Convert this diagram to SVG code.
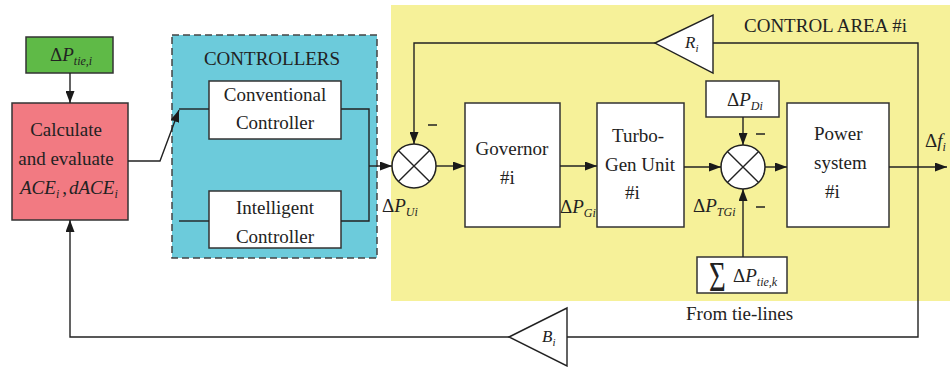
<svg xmlns="http://www.w3.org/2000/svg" width="950" height="367" viewBox="0 0 950 367" font-family="'Liberation Serif', Tinos, 'Times New Roman', serif">
<style>
  .t { font-family: "Liberation Serif", Tinos, "Times New Roman", serif; font-size: 19px; fill: #222; }
  .m { font-family: "Liberation Serif", Tinos, "Times New Roman", serif; font-size: 19px; fill: #222; }
  .it { font-style: italic; }
  .sub { font-style: italic; font-size: 12px; }
  .box { fill: #ffffff; stroke: #333; stroke-width: 1.5; }
  .ln { fill: none; stroke: #222; stroke-width: 1.4; }
  .sum { fill: #ffffff; stroke: #222; stroke-width: 1.5; }
</style>
<defs>
  <marker id="arr" viewBox="0 0 12 9" refX="12" refY="4.5" markerWidth="12" markerHeight="9" orient="auto" markerUnits="userSpaceOnUse">
    <path d="M0,0 L12,4.5 L0,9 z" fill="#1a1a1a"/>
  </marker>
</defs>
<rect x="0" y="0" width="950" height="367" fill="#ffffff"/>

<g id="control-area">
  <rect x="391" y="5" width="559" height="296" fill="#f6f199"/>
  <text class="t" x="744" y="32">CONTROL AREA #i</text>
</g>

<g id="controllers">
  <rect x="172" y="35" width="205" height="223" fill="#6ccbdb" stroke="#444" stroke-width="1.5" stroke-dasharray="7,4"/>
  <text class="t" x="272" y="65" text-anchor="middle">CONTROLLERS</text>
</g>

<g id="tie-input">
  <rect x="26" y="37" width="87" height="36" fill="#5fba47" stroke="#333" stroke-width="1.5"/>
  <text class="m" x="50" y="61">Δ<tspan class="it">P</tspan><tspan class="sub" dy="4">tie,i</tspan></text>
</g>

<g id="calc">
  <rect x="12" y="103" width="116" height="117" fill="#f27a82" stroke="#333" stroke-width="1.5"/>
  <text class="t" x="66" y="136" text-anchor="middle">Calculate</text>
  <text class="t" x="66" y="165" text-anchor="middle">and evaluate</text>
  <text class="m" x="20" y="194"><tspan class="it">ACE</tspan><tspan class="sub" dy="4">i</tspan><tspan dx="3" dy="-4">,</tspan><tspan class="it" dx="2">dACE</tspan><tspan class="sub" dy="4">i</tspan></text>
</g>

<g id="conventional">
  <rect class="box" x="209" y="81" width="132" height="58"/>
  <text class="t" x="275" y="101" text-anchor="middle">Conventional</text>
  <text class="t" x="275" y="129" text-anchor="middle">Controller</text>
</g>

<g id="intelligent">
  <rect class="box" x="209" y="191" width="132" height="57"/>
  <text class="t" x="275" y="214" text-anchor="middle">Intelligent</text>
  <text class="t" x="275" y="243" text-anchor="middle">Controller</text>
</g>

<g id="sum1">
  <circle class="sum" cx="414" cy="166" r="22"/>
  <path class="ln" d="M398.4,150.4 L429.6,181.6 M429.6,150.4 L398.4,181.6"/>
</g>

<g id="governor">
  <rect class="box" x="465" y="103" width="95" height="124"/>
  <text class="t" x="512" y="155" text-anchor="middle">Governor</text>
  <text class="t" x="500" y="184">#i</text>
</g>

<g id="turbo">
  <rect class="box" x="597" y="103" width="87" height="124"/>
  <text class="t" x="612" y="142">Turbo-</text>
  <text class="t" x="640" y="171" text-anchor="middle">Gen Unit</text>
  <text class="t" x="625" y="199">#i</text>
</g>

<g id="load">
  <rect class="box" x="706" y="81" width="73" height="36"/>
  <text class="m" x="727" y="106">Δ<tspan class="it">P</tspan><tspan class="sub" dy="4">Di</tspan></text>
</g>

<g id="sum2">
  <circle class="sum" cx="743" cy="167" r="22"/>
  <path class="ln" d="M727.4,151.4 L758.6,182.6 M758.6,151.4 L727.4,182.6"/>
</g>

<g id="power">
  <rect class="box" x="787" y="103" width="102" height="124"/>
  <text class="t" x="814" y="140">Power</text>
  <text class="t" x="814" y="169">system</text>
  <text class="t" x="825" y="198">#i</text>
</g>

<g id="tie-sum">
  <rect class="box" x="697" y="257" width="90" height="36"/>
  <text class="m" transform="translate(709,291) scale(0.9,1.3)" style="font-size:32px">Σ</text>
  <text class="m" x="733" y="282">Δ<tspan class="it">P</tspan><tspan class="sub" dy="4">tie,k</tspan></text>
</g>

<g id="Ri">
  <polygon points="655,43 713,15 713,73" fill="#ffffff" stroke="#222" stroke-width="1.4"/>
  <text class="m" x="685" y="48" style="font-size:17px"><tspan class="it">R</tspan><tspan class="sub" style="font-size:11px" dy="4">i</tspan></text>
</g>

<g id="Bi">
  <polygon points="509,337 567,308 567,366" fill="#ffffff" stroke="#222" stroke-width="1.4"/>
  <text class="m" x="542" y="342" style="font-size:17px"><tspan class="it">B</tspan><tspan class="sub" style="font-size:11px" dy="4">i</tspan></text>
</g>

<g id="connectors">
  <path class="ln" d="M70,73 L70,103" marker-end="url(#arr)"/>
  <path class="ln" d="M128,161 L160,161 L179,110" marker-end="url(#arr)"/>
  <path class="ln" d="M179,109 L209,109"/>
  <path class="ln" d="M179,221 L209,221"/>
  <path class="ln" d="M341,109 L369,109 L369,221 L341,221"/>
  <path class="ln" d="M369,166 L392,166" marker-end="url(#arr)"/>
  <path class="ln" d="M436,166 L465,166" marker-end="url(#arr)"/>
  <path class="ln" d="M560,166 L597,166" marker-end="url(#arr)"/>
  <path class="ln" d="M684,167 L721,167" marker-end="url(#arr)"/>
  <path class="ln" d="M765,167 L787,167" marker-end="url(#arr)"/>
  <path class="ln" d="M743,117 L743,145" marker-end="url(#arr)"/>
  <path class="ln" d="M743,257 L743,189" marker-end="url(#arr)"/>
  <path class="ln" d="M889,167 L947,167" marker-end="url(#arr)"/>
  <path class="ln" d="M713,43 L918,43 L918,337 L567,337"/>
  <path class="ln" d="M655,43 L414,43 L414,144" marker-end="url(#arr)"/>
  <path class="ln" d="M509,337 L70,337 L70,220" marker-end="url(#arr)"/>
  <path class="ln" d="M428,125 L437,125 M756,134 L765,134 M756,207 L765,207"/>
  <text class="m" x="382" y="212">Δ<tspan class="it">P</tspan><tspan class="sub" dy="4">Ui</tspan></text>
  <text class="m" x="560" y="213">Δ<tspan class="it">P</tspan><tspan class="sub" dy="4">Gi</tspan></text>
  <text class="m" x="693" y="212">Δ<tspan class="it">P</tspan><tspan class="sub" dy="4">TGi</tspan></text>
  <text class="m" x="925" y="147">Δ<tspan class="it">f</tspan><tspan class="sub" dy="4">i</tspan></text>
  <text class="t" x="686" y="320">From tie-lines</text>
</g>
</svg>
